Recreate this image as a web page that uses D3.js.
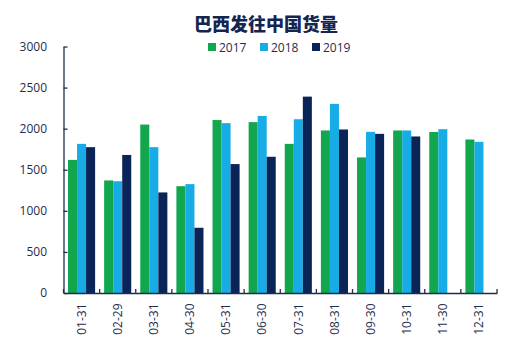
<!DOCTYPE html>
<html><head><meta charset="utf-8">
<script src="https://cdn.jsdelivr.net/npm/d3@7"></script>
<style>body{margin:0;background:#fff;}svg{display:block;font-family:"Open Sans","Noto Sans CJK SC",sans-serif;}</style>
</head><body><div id="chart"></div>
<script>
const categories = ["01-31","02-29","03-31","04-30","05-31","06-30","07-31","08-31","09-30","10-31","11-30","12-31"];
const seriesNames = ["2017","2018","2019"];
const values2017 = [1620,1370,2050,1300,2105,2080,1815,1978,1650,1978,1960,1868];
const values2018 = [1815,1360,1775,1325,2067,2155,2115,2302,1961,1978,1994,1840];
const values2019 = [1775,1680,1224,794,1569,1658,2390,1990,1937,1905,null,null];
const yTicks = [0,500,1000,1500,2000,2500,3000];
const colors = ["#12a64f","#17ace6","#0b2457"];
const title = "巴西发往中国货量";

const W=532,H=339;
const m={left:63.5,right:35,top:46.5,bottom:46};
const svg=d3.select("#chart").append("svg").attr("width",W).attr("height",H);
const x=d3.scaleBand().domain(categories).range([m.left,W-m.right]).paddingInner(0).paddingOuter(0);
const y=d3.scaleLinear().domain([0,3000]).range([H-m.bottom,m.top]);
const sub=d3.scaleBand().domain(seriesNames).range([0,x.bandwidth()]).paddingOuter(0.5).paddingInner(0);
const all=[values2017,values2018,values2019];
const axisColor="#1f2d4d";

svg.append("text").attr("x",266).attr("y",30.5).attr("text-anchor","middle")
  .attr("font-size",18).attr("font-weight","900").attr("fill","#14254f")
  .attr("font-family","'Noto Sans CJK SC',sans-serif").text(title);

// bars
seriesNames.forEach((s,i)=>{
  svg.append("g").selectAll("rect").data(categories.map((c,j)=>({c,v:all[i][j]})).filter(d=>d.v!=null))
   .join("rect").attr("x",d=>x(d.c)+sub(s)).attr("width",sub.bandwidth())
   .attr("y",d=>y(d.v)).attr("height",d=>y(0)-y(d.v)).attr("fill",colors[i]);
});

// y axis
const ya=svg.append("g").attr("transform",`translate(${m.left},0)`)
  .call(d3.axisLeft(y).tickValues(yTicks).tickFormat(d3.format("d")).tickSizeInner(-4).tickSizeOuter(0).tickPadding(16.5));
ya.selectAll("path,line").attr("stroke",axisColor).attr("stroke-width",1.3);
ya.selectAll("text").attr("font-size",12).attr("fill",axisColor).attr("font-family","'Open Sans',sans-serif");

// x axis
const xa=svg.append("g").attr("transform",`translate(0,${y(0)})`)
  .call(d3.axisBottom(x).tickSize(0).tickPadding(0));
xa.select("path").attr("stroke",axisColor).attr("stroke-width",1.3);
xa.selectAll("text").attr("font-size",12).attr("fill",axisColor).attr("font-family","'Open Sans',sans-serif")
  .attr("transform","rotate(-90)").attr("text-anchor","end").attr("dy","0.35em").attr("x",-10.5).attr("y",0);
const bounds=categories.map(c=>x(c)).concat([x.range()[1]]);
xa.selectAll("line.b").data(bounds).join("line").attr("class","b")
  .attr("x1",d=>d).attr("x2",d=>d).attr("y1",0).attr("y2",-4).attr("stroke",axisColor).attr("stroke-width",1.3);

// legend
const lg=svg.append("g");
const lx=[208,260,312];
seriesNames.forEach((s,i)=>{
  lg.append("rect").attr("x",lx[i]).attr("y",43).attr("width",8).attr("height",8).attr("fill",colors[i]);
  lg.append("text").attr("x",lx[i]+11).attr("y",51.5).attr("font-size",12).attr("fill",axisColor).attr("font-family","'Open Sans',sans-serif").text(s);
});
</script></body></html>
